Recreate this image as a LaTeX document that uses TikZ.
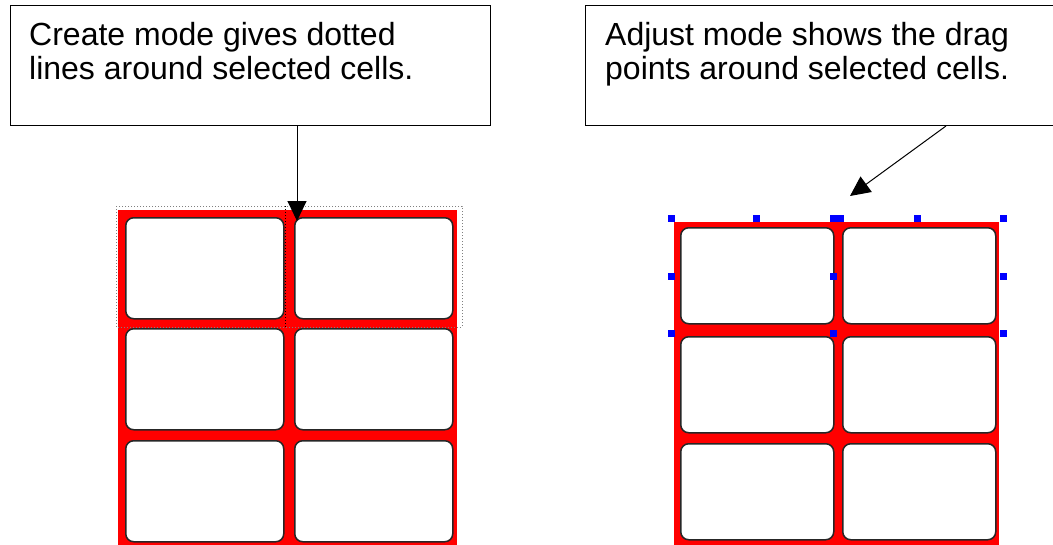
\documentclass[tikz,border=0pt]{standalone}
\usepackage{fontspec}
\setmainfont{Liberation Sans}
\usetikzlibrary{positioning,arrows.meta}

\tikzset{
  note box/.style={draw, line width=1pt, minimum width=480pt, minimum height=120pt,
    anchor=north west, inner sep=0pt},
  note text/.style={inner sep=0pt, align=left, font=\fontsize{32}{34}\selectfont},
  sheet/.style={fill=red, draw=none},
  cell/.style={draw=black!85, fill=white, line width=1.5pt, rounded corners=8pt,
    inner sep=0pt, anchor=north west},
  handle/.style={fill=blue, draw=none, minimum size=7pt, inner sep=0pt},
  pointer/.style={-{Triangle[length=20pt,width=19pt]}, line width=1pt},
}

\begin{document}
\begin{tikzpicture}[x=1pt,y=-1pt]
   \useasboundingbox (0,0) rectangle (1053,544);
   \clip (0,0) rectangle (1053,544);

   % callouts
   \node[note box] (create_box) at (10,5) {};
   \node[note text] (create_text) [below right=17pt and 19pt of create_box.north west]
     {Create mode gives dotted\\lines around selected cells.};
   \node[note box] (adjust_box) at (585,5) {};
   \node[note text] (adjust_text) [below right=17pt and 20pt of adjust_box.north west]
     {Adjust mode shows the drag\\points around selected cells.};

   % create mode
   \fill[sheet] (118,210) rectangle (457,550);
   \foreach \c/\x in {1/125,2/294}
     \foreach \r/\y in {1/217,2/328,3/440}
       \node[cell, minimum width=158pt, minimum height=101pt] (create_cell_\r\c) at (\x,\y) {};
   \draw[gray, dotted, line width=1pt] (116,206) rectangle (462,327);
   \draw[black, dotted, line width=1pt] (285,206) -- (285,327);

   % adjust mode
   \fill[sheet] (674,222) rectangle (999,550);
   \foreach \c/\x in {1/680,2/842}
     \foreach \r/\y in {1/227,2/336,3/443}
       \node[cell, minimum width=153pt, minimum height=96pt] (adjust_cell_\r\c) at (\x,\y) {};
   \foreach \x/\y [count=\i] in {671/218,756/218,833/218,840/218,917/218,1003/218,
                                 671/276,833/276,1003/276,671/333,833/333,1003/333}
     \node[handle] (drag_\i) at (\x,\y) {};

   % pointers
   \coordinate (create_tip) at (297,221);
   \coordinate (adjust_tip) at (850,196);
   \draw[pointer] (create_box.south -| create_tip) -- (create_tip);
   \draw[pointer] ([xshift=361pt]adjust_box.south west) -- (adjust_tip);
\end{tikzpicture}
\end{document}
